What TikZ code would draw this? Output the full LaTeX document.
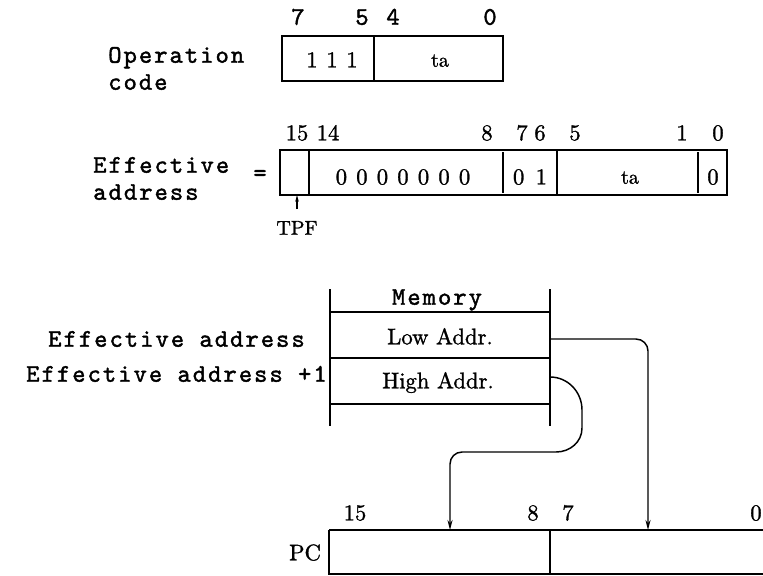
\documentclass[tikz,border=0pt]{standalone}
\usepackage{fontspec}
\newfontfamily\tw{lmmono10-regular.otf}[LetterSpace=8, FakeBold=1.6]
\newfontfamily\sr{lmroman10-regular.otf}[FakeBold=1.2]
\usetikzlibrary{arrows.meta}
\begin{document}
\begin{tikzpicture}[x=0.75pt,y=-0.75pt,
  tt/.style={font=\tw\fontsize{19}{22}\selectfont, inner sep=0pt, text height=11.6pt, text depth=0pt},
  rm/.style={font=\sr\fontsize{17}{20}\selectfont, inner sep=0pt, text height=11pt, text depth=0pt},
  rms/.style={font=\sr\fontsize{15}{18}\selectfont, inner sep=0pt, text height=10pt, text depth=0pt},
  box/.style={line width=1.4pt},
  thinline/.style={line width=1pt},
  arr/.style={-{Stealth[length=7.5pt,width=3.8pt]}, line width=1.1pt},
]
\useasboundingbox (0,0) rectangle (763,575);

% ---------- Operation code ----------
\node[tt, anchor=west] (op1) at (108,55) {Operation};
\node[tt, anchor=west] (op2) at (108,82) {code};
\draw[box] (282,36) rectangle (503,81);
\draw[box] (374,36) -- (374,81);
\node[rm] (opones) at (332,60) {1\hspace{6.5pt}1\hspace{6.5pt}1};
\node[rms] (opta) at (440,60) {ta};
\node[tt] (ob7) at (298,17) {7};
\node[tt] (ob5) at (362,17) {5};
\node[tt] (ob4) at (393,17) {4};
\node[tt] (ob0) at (490,17) {0};

% ---------- Effective address ----------
\node[tt, anchor=west] (ea1) at (93,165) {Effective};
\node[tt, anchor=west] (ea2) at (93,192) {address};
\node[tt] (eq) at (260,173) {=};
\draw[box] (280,150) rectangle (727,195);
\draw[thinline] (309,150) -- (309,195);
\draw[thinline] (503,152) -- (503,193);
\draw[thinline] (557,150) -- (557,195);
\draw[thinline] (698,152) -- (698,193);
\node[rm] (zeros) at (403,177) {0\hspace{6.9pt}0\hspace{6.9pt}0\hspace{6.9pt}0\hspace{6.9pt}0\hspace{6.9pt}0\hspace{6.9pt}0};
\node[rm] (zeroone) at (530,177) {0\hspace{8.5pt}1};
\node[rms] (eata) at (630,177) {ta};
\node[rm] (lastzero) at (713,177) {0};
\node[rm] (eb15) at (297,133) {15};
\node[rm] (eb14) at (328,133) {14};
\node[rm] (eb8) at (487,133) {8};
\node[rm] (eb7) at (522,133) {7};
\node[rm] (eb6) at (540,133) {6};
\node[rm] (eb5) at (575,133) {5};
\node[rm] (eb1) at (682,133) {1};
\node[rm] (eb0) at (718,133) {0};
\node[rms] (tpf) at (297,228) {TPF};
\coordinate (tpfstart) at (297,209);
\coordinate (tpfend) at (297,195);
\draw[-{Stealth[length=5pt,width=2.6pt]}, thinline] (tpfstart) -- (tpfend);

% ---------- Memory ----------
\draw[thinline] (330,289) -- (330,426);
\draw[thinline] (550,289) -- (550,426);
\draw[thinline] (330,312) -- (550,312);
\draw[thinline] (330,358) -- (550,358);
\draw[thinline] (330,404) -- (550,404);
\node[tt] (memtitle) at (437,297) {Memory};
\node[rm] (low) at (440,337) {Low Addr.};
\node[rm] (high) at (438,381) {High Addr.};
\node[tt, anchor=east] (lowlbl) at (305,339) {Effective address};
\node[tt, anchor=east] (highlbl) at (327,374) {Effective address +1};

% ---------- PC ----------
\draw[line width=1.7pt] (329,530) -- (763,530);
\draw[box] (329,530) -- (329,575);
\draw[box] (329,574) -- (763,574);
\draw[box] (550,530) -- (550,574);
\node[rm] (pc) at (305,553) {PC};
\node[rm] (pb15) at (355,513) {15};
\node[rm] (pb8) at (533,513) {8};
\node[rm] (pb7) at (568,513) {7};
\node[rm] (pb0) at (756,513) {0};

% ---------- connectors ----------
\coordinate (lowout) at (550,339);
\coordinate (highout) at (550,377);
\coordinate (pclo) at (648,530);
\coordinate (pchi) at (450,530);
\draw[arr, rounded corners=9pt] (lowout) -- (lowout -| pclo) -- (pclo);
\draw[arr] (highout) .. controls (568,377) and (582,392) .. (582,410)
  -- (582,428) .. controls (582,442) and (570,452) .. (556,452)
  [rounded corners=9pt] -- (450,452) -- (pchi);
\end{tikzpicture}
\end{document}
